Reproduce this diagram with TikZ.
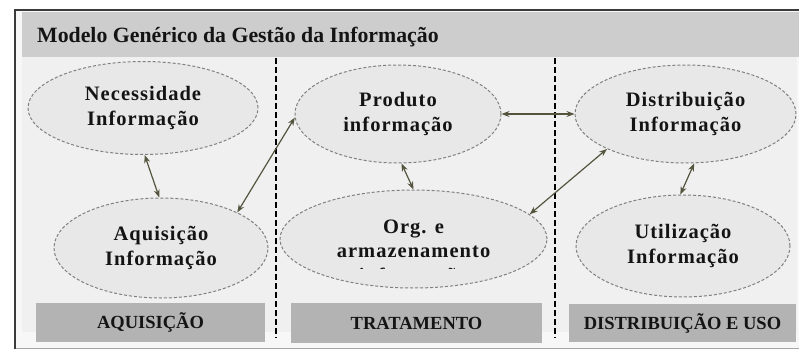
\documentclass[tikz,border=0pt]{standalone}
\usepackage{fontspec}
\setmainfont{Liberation Serif}
\newfontfamily\elfont[LetterSpace=5]{Liberation Serif}
\usetikzlibrary{shapes.geometric,arrows.meta}
\definecolor{framec}{HTML}{3A3A3A}
\definecolor{outerc}{HTML}{F7F7F7}
\definecolor{panelc}{HTML}{F0F0F0}
\definecolor{titlec}{HTML}{CDCDCD}
\definecolor{labelc}{HTML}{B3B3B3}
\definecolor{ellc}{HTML}{E8E8E8}
\definecolor{elldraw}{HTML}{808080}
\definecolor{arrowc}{HTML}{55553F}
\definecolor{txtc}{HTML}{141414}
\begin{document}
\begin{tikzpicture}[x=1pt,y=-1pt,
  ell/.style={ellipse,draw=elldraw,fill=ellc,dashed,dash pattern=on 3pt off 2pt,line width=1pt,inner sep=0pt,align=center,text=txtc,font=\elfont\bfseries\fontsize{20.5}{25.5}\selectfont},
  elltext/.style={align=center,text=txtc,font=\elfont\bfseries\fontsize{20.5}{24}\selectfont,inner sep=0pt},
  lab/.style={fill=labelc,inner sep=0pt,text=txtc,font=\bfseries\fontsize{18.5}{20}\selectfont},
  sep/.style={black,line width=1.3pt,dash pattern=on 6pt off 3pt},
  link/.style={arrowc,line width=1.2pt,{Stealth[length=8pt,width=6pt]}-{Stealth[length=8pt,width=6pt]}}
]
\useasboundingbox (0,0) rectangle (799,350);
\fill[white] (0,0) rectangle (799,350);
% outer frame
\fill[outerc] (14,9) rectangle (805,348);
\draw[gray!70,line width=1pt] (14,348) -- (805,348);
\draw[framec,line width=2pt] (15,349) -- (15,10) -- (805,10);
% title bar and panel
\fill[titlec] (22,12) rectangle (805,57);
\fill[panelc] (22,57) rectangle (797,332);
\node[anchor=base west,inner sep=0pt,text=txtc,font=\bfseries\fontsize{21.8}{24}\selectfont] (title) at (37,42.5) {Modelo Genérico da Gestão da Informação};
% separators
\coordinate (s1t) at (276,58); \coordinate (s1b) at (276,338);
\coordinate (s2t) at (555,58); \coordinate (s2b) at (555,338);
\draw[sep] (s1t) -- (s1b);
\draw[sep] (s2t) -- (s2b);
% label boxes
\node[lab,minimum width=229pt,minimum height=39pt] (l1) at (150.5,322.5) {AQUISIÇÃO};
\node[lab,minimum width=251pt,minimum height=40pt] (l2) at (416.5,323) {TRATAMENTO};
\node[lab,minimum width=227pt,minimum height=38pt] (l3) at (682.5,323) {DISTRIBUIÇÃO E USO};
% ellipses
\node[ell,minimum width=230pt,minimum height=93pt] (nec) at (143,108) {Necessidade\\Informação};
\node[ell,minimum width=206pt,minimum height=98pt] (prod) at (398,114) {Produto\\informação};
\node[ell,minimum width=221pt,minimum height=98pt] (dist) at (685.5,114) {Distribuição\\Informação};
\node[ell,minimum width=214pt,minimum height=100pt] (aq) at (161,248) {Aquisição\\Informação};
\node[ell,minimum width=267pt,minimum height=98pt] (org) at (413.5,239) {};
\node[ell,minimum width=214pt,minimum height=102pt] (util) at (683,246) {Utilização\\Informação};
\begin{scope}
\clip (282,192) rectangle (545,268.5);
\node[elltext,anchor=base] (orgt1) at (413.5,233) {Org. e};
\node[elltext,anchor=base] (orgt2) at (413.5,257) {armazenamento};
\node[elltext,anchor=base] (orgt3) at (413.5,282) {informação};
\end{scope}
% connectors
\draw[link] (nec.-88) -- (aq.92);
\draw[link] (aq.25) -- (prod.182);
\draw[link] (prod.east) -- (dist.west);
\draw[link] (prod.-86) -- (org.90);
\draw[link] (org.12) -- (dist.204);
\draw[link] (dist.-80) -- (util.93);
\end{tikzpicture}
\end{document}
